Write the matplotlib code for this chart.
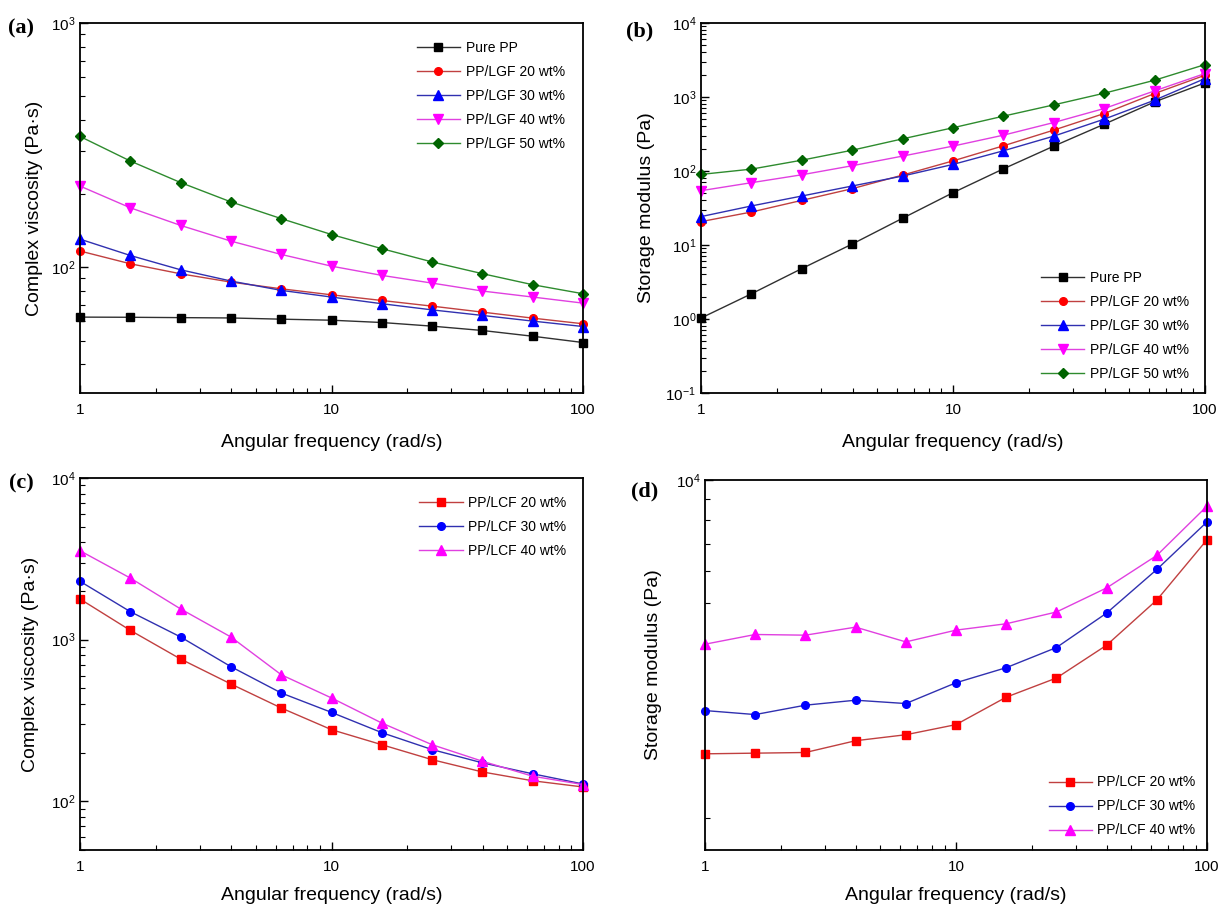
import numpy as np
import matplotlib
matplotlib.use("Agg")
import matplotlib.pyplot as plt
from matplotlib.ticker import LogLocator, FixedLocator, FuncFormatter, NullFormatter

plt.rcParams['font.family'] = ['Liberation Sans', 'DejaVu Sans']

# angular frequency, rad/s (5 points per decade)
freq = [1.0, 1.585, 2.512, 3.981, 6.31, 10.0, 15.85, 25.12, 39.81, 63.1, 100.0]

# (a) complex viscosity, PP/LGF, Pa.s
eta_pp = [62.4, 62.3, 62.1, 61.9, 61.2, 60.6, 59.3, 57.3, 55.0, 52.1, 49.1]
eta_lgf20 = [116.4, 103.2, 93.9, 86.8, 81.5, 77.0, 73.0, 69.2, 65.4, 61.8, 58.6]
eta_lgf30 = [130.2, 111.6, 97.5, 87.7, 80.3, 75.4, 70.8, 66.8, 63.4, 60.1, 57.1]
eta_lgf40 = [214.8, 175.0, 148.2, 127.8, 112.7, 100.9, 92.5, 86.0, 79.8, 75.4, 71.2]
eta_lgf50 = [343, 272, 222, 185, 158, 136, 119, 105, 94, 84.7, 77.8]

# (b) storage modulus, PP/LGF, Pa
g_pp = [1.03, 2.19, 4.8, 10.3, 23, 50.9, 107, 217, 429, 859, 1552]
g_lgf20 = [20.7, 27.9, 40.1, 57.7, 88.1, 137, 219, 357, 598, 1114, 1969]
g_lgf30 = [24.2, 33.7, 45.9, 62.7, 85.5, 122.7, 187.6, 296, 502, 906, 1775]
g_lgf40 = [54.2, 69.5, 88.9, 117.8, 159, 217, 305, 452, 699, 1210, 2075]
g_lgf50 = [89.9, 106, 140, 191, 272, 384, 551, 783, 1125, 1685, 2741]

# (c) complex viscosity, PP/LCF, Pa.s
eta_lcf20 = [1785, 1142, 759, 532, 378, 277.5, 224, 181, 152, 134, 122.7]
eta_lcf30 = [2296, 1490, 1039, 681, 468, 355, 266, 209, 173, 148, 128]
eta_lcf40 = [3549, 2405, 1549, 1039, 607, 436, 305, 224, 177, 143, 127]

# (d) storage modulus, PP/LCF, Pa
g_lcf20 = [2150, 2158, 2166, 2314, 2393, 2533, 2955, 3290, 3956, 5098, 7151]
g_lcf30 = [2741, 2680, 2825, 2905, 2851, 3204, 3487, 3904, 4737, 6051, 7904]
g_lcf40 = [3978, 4201, 4185, 4378, 4030, 4305, 4462, 4766, 5456, 6548, 8636]

lgf_labels = ['Pure PP', 'PP/LGF 20 wt%', 'PP/LGF 30 wt%', 'PP/LGF 40 wt%', 'PP/LGF 50 wt%']
lcf_labels = ['PP/LCF 20 wt%', 'PP/LCF 30 wt%', 'PP/LCF 40 wt%']

lgf_colors = ['black', 'red', 'blue', 'magenta', '#006400']
lgf_line = ['#303030', '#c04040', '#3030b0', '#e040e0', '#2e8b2e']
lgf_markers = ['s', 'o', '^', 'v', 'D']
lcf_colors = ['red', 'blue', 'magenta']
lcf_line = ['#c04040', '#3030b0', '#e040e0']
lcf_markers = ['s', 'o', '^']

W, H = 1218, 907
fig = plt.figure(figsize=(W / 100, H / 100), dpi=100)


def px_axes(left, top, right, bottom):
    return fig.add_axes([left / W, 1 - bottom / H, (right - left) / W, (bottom - top) / H])


ax_a = px_axes(80, 23, 583, 393)
ax_b = px_axes(701, 23, 1205, 393)
ax_c = px_axes(80, 478, 583, 850)
ax_d = px_axes(705, 480, 1207, 850)


def style(ax, ylabel, ylab_x, xlab_y):
    ax.set_xscale('log')
    ax.set_yscale('log')
    ax.set_xlim(1, 100)
    ax.xaxis.set_major_formatter(FuncFormatter(lambda v, p: '%g' % v))
    ax.xaxis.set_minor_formatter(NullFormatter())
    ax.tick_params(which='both', direction='in', top=False, right=False, labelsize=11)
    ax.tick_params(which='major', length=6, width=1)
    ax.tick_params(which='minor', length=3.5, width=0.8)
    ax.tick_params(axis='x', pad=7)
    for s in ax.spines.values():
        s.set_linewidth(1.3)
    ax.set_xlabel('Angular frequency (rad/s)', fontsize=14)
    ax.xaxis.set_label_coords(0.5, xlab_y)
    ax.xaxis.label.set_va('top')
    ax.set_ylabel(ylabel, fontsize=14)
    ax.yaxis.set_label_coords(ylab_x, 0.5)


def draw(ax, ys, labels, colors, lines, markers):
    for y, lab, c, lc, m in zip(ys, labels, colors, lines, markers):
        ms = 6.5 if m in ('^', 'v') else 5.5
        ax.plot(freq, y, color=lc, lw=1.0, marker=m, ms=ms, mfc=c, mec=c, label=lab, clip_on=False)


# (a)
draw(ax_a, [eta_pp, eta_lgf20, eta_lgf30, eta_lgf40, eta_lgf50], lgf_labels, lgf_colors, lgf_line, lgf_markers)
style(ax_a, 'Complex viscosity (Pa\u00b7s)', -0.074, -0.112)
ax_a.set_ylim(30.5, 1000)
ax_a.legend(loc='upper left', bbox_to_anchor=(0.645, 0.985), frameon=False, fontsize=10,
            handlelength=3.1, handletextpad=0.4, labelspacing=0.72)

# (b)
draw(ax_b, [g_pp, g_lgf20, g_lgf30, g_lgf40, g_lgf50], lgf_labels, lgf_colors, lgf_line, lgf_markers)
style(ax_b, 'Storage modulus (Pa)', -0.091, -0.112)
ax_b.set_ylim(0.1, 1e4)
ax_b.yaxis.set_minor_locator(LogLocator(base=10, subs=np.arange(2, 10), numticks=20))
ax_b.legend(loc='lower left', bbox_to_anchor=(0.65, 0.0), frameon=False, fontsize=10,
            handlelength=3.1, handletextpad=0.4, labelspacing=0.72)

# (c)
draw(ax_c, [eta_lcf20, eta_lcf30, eta_lcf40], lcf_labels, lcf_colors, lcf_line, lcf_markers)
style(ax_c, 'Complex viscosity (Pa\u00b7s)', -0.082, -0.1)
ax_c.set_ylim(50, 1e4)
ax_c.legend(loc='upper left', bbox_to_anchor=(0.65, 0.985), frameon=False, fontsize=10,
            handlelength=3.1, handletextpad=0.4, labelspacing=0.72)

# (d)
draw(ax_d, [g_lcf20, g_lcf30, g_lcf40], lcf_labels, lcf_colors, lcf_line, lcf_markers)
style(ax_d, 'Storage modulus (Pa)', -0.085, -0.1)
ax_d.set_ylim(1253, 1e4)
ax_d.yaxis.set_minor_locator(FixedLocator([1500, 5000, 6000, 7000, 8000, 9000]))
ax_d.yaxis.set_minor_formatter(NullFormatter())
ax_d.legend(loc='lower left', bbox_to_anchor=(0.66, 0.0), frameon=False, fontsize=10,
            handlelength=3.1, handletextpad=0.4, labelspacing=0.72)

# panel letters
for txt, x, y in [('(a)', 8, 28), ('(b)', 626, 31), ('(c)', 9, 483), ('(d)', 631, 491)]:
    fig.text(x / W, 1 - y / H, txt, fontsize=16, fontweight='bold',
             family='Liberation Serif', ha='left', va='center')

fig.savefig('out.png', dpi=100)
